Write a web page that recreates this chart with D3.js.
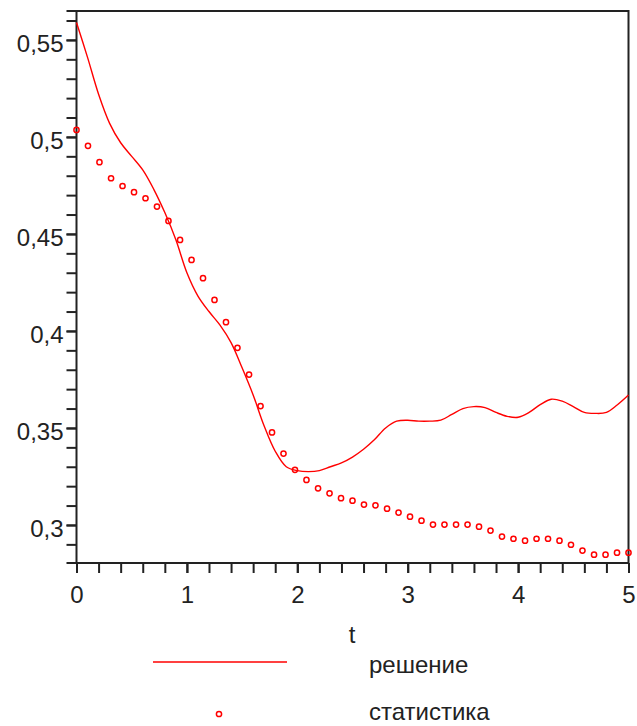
<!DOCTYPE html>
<html>
<head>
<meta charset="utf-8">
<script src="https://cdn.jsdelivr.net/npm/d3@7"></script>
<style>
  html, body { margin: 0; padding: 0; background: #fff; }
  svg { display: block; }
  text { font-family: "Liberation Sans", Arial, sans-serif; fill: #222; }
</style>
</head>
<body>
<svg id="chart" width="637" height="726"></svg>
<script>
// ---- data ----
const solT = [0.0,0.1,0.2,0.3,0.4,0.5,0.6,0.7,0.8,0.9,1.0,1.1,1.2,1.3,1.4,1.5,1.6,1.7,1.8,1.9,2.0,2.1,2.2,2.3,2.4,2.5,2.6,2.7,2.8,2.9,3.0,3.1,3.2,3.3,3.4,3.5,3.6,3.7,3.8,3.9,4.0,4.1,4.2,4.3,4.4,4.5,4.6,4.7,4.8,4.9,5.0];
const solV = [0.559,0.541,0.522,0.507,0.497,0.490,0.483,0.473,0.461,0.447,0.430,0.418,0.410,0.403,0.394,0.381,0.367,0.351,0.338,0.330,0.328,0.3275,0.328,0.330,0.332,0.335,0.339,0.344,0.350,0.3535,0.354,0.3535,0.3535,0.354,0.357,0.360,0.361,0.3605,0.358,0.356,0.3555,0.358,0.362,0.3648,0.3638,0.361,0.358,0.3575,0.358,0.362,0.367];

const statT = [0,0.104,0.208,0.313,0.417,0.521,0.625,0.729,0.833,0.938,1.042,1.146,1.25,1.354,1.458,1.563,1.667,1.771,1.875,1.979,2.083,2.188,2.292,2.396,2.5,2.604,2.708,2.813,2.917,3.021,3.125,3.229,3.333,3.438,3.542,3.646,3.75,3.854,3.958,4.063,4.167,4.271,4.375,4.479,4.583,4.688,4.792,4.896,5.0];
const statV = [0.5036,0.4954,0.4870,0.4787,0.4747,0.4715,0.4684,0.4641,0.4567,0.4469,0.4366,0.4272,0.4160,0.4045,0.3913,0.3775,0.3613,0.3477,0.3368,0.3284,0.3232,0.3189,0.3163,0.3138,0.3125,0.3105,0.3101,0.3084,0.3064,0.3043,0.3022,0.3002,0.3002,0.3002,0.3002,0.2991,0.2971,0.2940,0.2929,0.2919,0.2929,0.2929,0.2919,0.2898,0.2868,0.2847,0.2847,0.2857,0.2857];

const xTickValues = [0,1,2,3,4,5];
const xTickLabels = ["0","1","2","3","4","5"];
const xMinorTicks = [0,0.2,0.4,0.6,0.8,1,1.2,1.4,1.6,1.8,2,2.2,2.4,2.6,2.8,3,3.2,3.4,3.6,3.8,4,4.2,4.4,4.6,4.8,5];
const yTickValues = [0.3,0.35,0.4,0.45,0.5,0.55];
const yTickLabels = ["0,3","0,35","0,4","0,45","0,5","0,55"];
const yMinorTicks = [0.29,0.30,0.31,0.32,0.33,0.34,0.35,0.36,0.37,0.38,0.39,0.40,0.41,0.42,0.43,0.44,0.45,0.46,0.47,0.48,0.49,0.50,0.51,0.52,0.53,0.54,0.55,0.56];
const xTitle = "t";
const legendNames = ["решение", "статистика"];

// ---- layout ----
const svg = d3.select("#chart");
const plotL = 76.5, plotR = 628.5, plotT = 11, plotB = 563;
const x = d3.scaleLinear().domain([0, 5]).range([plotL, plotR]);
const y = d3.scaleLinear().domain([0.2804, 0.5649]).range([plotB, plotT]);
const axisColor = "#222";
const red = "#ff0000";

// frame (top & right)
svg.append("path")
  .attr("d", `M${plotL - 10},${plotT}H${plotR}V${plotB}`)
  .attr("fill", "none").attr("stroke", axisColor).attr("stroke-width", 2);

// y axis minor ticks
const gyMinor = svg.append("g").attr("transform", `translate(${plotL},0)`)
  .call(d3.axisLeft(y).tickValues(yMinorTicks).tickSize(10).tickSizeOuter(0).tickFormat(""));
gyMinor.select(".domain").remove();
// y axis major labels
const gy = svg.append("g").attr("transform", `translate(${plotL},0)`)
  .call(d3.axisLeft(y).tickValues(yTickValues).tickSize(10).tickSizeOuter(0).tickPadding(3)
    .tickFormat((d, i) => yTickLabels[i]));
gy.select(".domain").remove();
gy.selectAll("text").attr("dy", "0.48em");

// x axis minor ticks
const gxMinor = svg.append("g").attr("transform", `translate(0,${plotB})`)
  .call(d3.axisBottom(x).tickValues(xMinorTicks).tickSize(10).tickSizeOuter(0).tickFormat(""));
gxMinor.select(".domain").remove();
const gx = svg.append("g").attr("transform", `translate(0,${plotB})`)
  .call(d3.axisBottom(x).tickValues(xTickValues).tickSize(10).tickSizeOuter(0).tickPadding(13)
    .tickFormat((d, i) => xTickLabels[i]));
gx.select(".domain").remove();

svg.selectAll(".tick line").attr("stroke", axisColor).attr("stroke-width", 2);
svg.selectAll(".tick text").attr("font-size", 24).attr("font-family", "Liberation Sans, Arial, sans-serif").attr("fill", "#222");

// axis lines
svg.append("line").attr("x1", plotL).attr("x2", plotL).attr("y1", plotT).attr("y2", plotB)
  .attr("stroke", axisColor).attr("stroke-width", 2);
svg.append("line").attr("x1", plotL - 10).attr("x2", plotR).attr("y1", plotB).attr("y2", plotB)
  .attr("stroke", axisColor).attr("stroke-width", 2);

// solution line
const line = d3.line().x((d, i) => x(solT[i])).y(d => y(d)).curve(d3.curveCatmullRom.alpha(0.5));
svg.append("path").datum(solV)
  .attr("d", line).attr("fill", "none").attr("stroke", red).attr("stroke-width", 1.4);

// statistics points
svg.append("g").selectAll("circle").data(statV).join("circle")
  .attr("cx", (d, i) => x(statT[i])).attr("cy", d => y(d)).attr("r", 2.6)
  .attr("fill", "none").attr("stroke", red).attr("stroke-width", 1.5);

// x title
svg.append("text").attr("x", 352).attr("y", 643).attr("text-anchor", "middle")
  .attr("font-size", 24).text(xTitle);

// legend
svg.append("line").attr("x1", 153).attr("x2", 287).attr("y1", 662).attr("y2", 662)
  .attr("stroke", red).attr("stroke-width", 1.4);
svg.append("text").attr("x", 369).attr("y", 673).attr("font-size", 24).text(legendNames[0]);
svg.append("circle").attr("cx", 219).attr("cy", 714).attr("r", 2.6)
  .attr("fill", "none").attr("stroke", red).attr("stroke-width", 1.5);
svg.append("text").attr("x", 369).attr("y", 720).attr("font-size", 24).text(legendNames[1]);
</script>
</body>
</html>
